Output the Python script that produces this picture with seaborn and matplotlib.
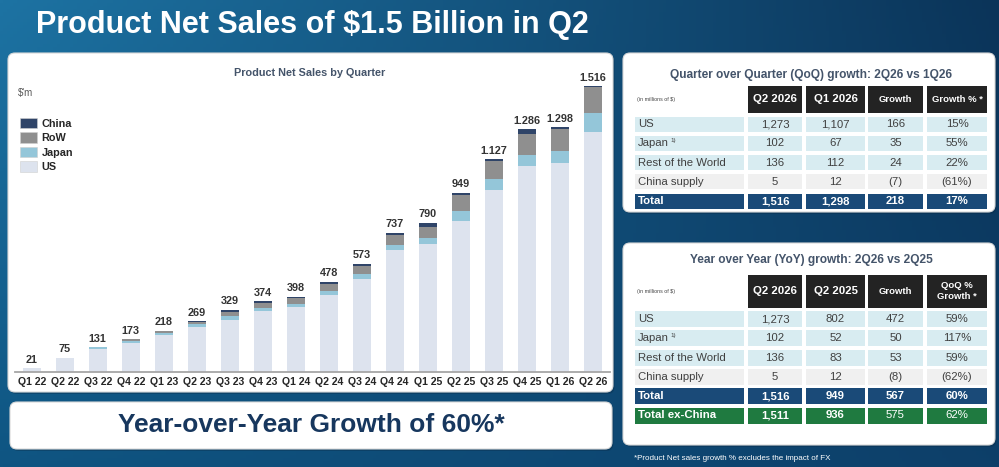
import matplotlib
matplotlib.use("Agg")
import matplotlib.pyplot as plt
import matplotlib.colors as mcolors
from matplotlib.patches import FancyBboxPatch, Rectangle, Patch
import numpy as np
import pandas as pd
import seaborn as sns

# ---- data ----
quarters = ['Q1 22', 'Q2 22', 'Q3 22', 'Q4 22', 'Q1 23', 'Q2 23', 'Q3 23', 'Q4 23', 'Q1 24',
            'Q2 24', 'Q3 24', 'Q4 24', 'Q1 25', 'Q2 25', 'Q3 25', 'Q4 25', 'Q1 26', 'Q2 26']
us = [21, 72, 124, 155, 194, 239, 277, 321, 344, 406, 495, 647, 681, 802, 963, 1090, 1107, 1273]
japan = [0, 0, 7, 9, 14, 14, 18, 19, 18, 21, 23, 28, 30, 52, 62, 62, 67, 102]
rest = [0, 3, 0, 9, 10, 14, 25, 25, 32, 39, 44, 50, 58, 83, 92, 109, 112, 136]
china = [0, 0, 0, 0, 0, 2, 9, 9, 4, 12, 11, 12, 21, 12, 10, 25, 12, 5]

qoq_header = ['Q2 2026', 'Q1 2026', 'Growth', 'Growth % *']
qoq_labels = ['US', 'Japan', 'Rest of the World', 'China supply', 'Total']
qoq_values = [['1,273', '1,107', '166', '15%'],
              ['102', '67', '35', '55%'],
              ['136', '112', '24', '22%'],
              ['5', '12', '(7)', '(61%)'],
              ['1,516', '1,298', '218', '17%']]

yoy_header = ['Q2 2026', 'Q2 2025', 'Growth', 'QoQ %\nGrowth *']
yoy_labels = ['US', 'Japan', 'Rest of the World', 'China supply', 'Total', 'Total ex-China']
yoy_values = [['1,273', '802', '472', '59%'],
              ['102', '52', '50', '117%'],
              ['136', '83', '53', '59%'],
              ['5', '12', '(8)', '(62%)'],
              ['1,516', '949', '567', '60%'],
              ['1,511', '936', '575', '62%']]

df = pd.DataFrame({'quarter': quarters, 'US': us, 'Japan': japan, 'RoW': rest, 'China': china})
df['lvl_japan'] = df['US'] + df['Japan']
df['lvl_row'] = df['lvl_japan'] + df['RoW']
df['total'] = df['lvl_row'] + df['China']

sns.set_theme(style='white')
plt.rcParams['font.family'] = ['Liberation Sans', 'DejaVu Sans']

W, H = 999, 467
fig = plt.figure(figsize=(W / 100, H / 100), dpi=100)

# background gradient + panels, in pixel coords
bg = fig.add_axes([0, 0, 1, 1])
bg.set_xlim(0, W)
bg.set_ylim(H, 0)
bg.axis('off')
tl, tr = np.array(mcolors.to_rgb('#1d73a3')), np.array(mcolors.to_rgb('#0b3459'))
bl, br = np.array(mcolors.to_rgb('#0f5582')), np.array(mcolors.to_rgb('#0d3f69'))
u = np.linspace(0, 1, 300)[None, :, None]
v = np.linspace(0, 1, 150)[:, None, None]
grad = (1 - v) * ((1 - u) * tl + u * tr) + v * ((1 - u) * bl + u * br)
bg.imshow(grad, extent=[0, W, H, 0], aspect='auto', zorder=0)


def panel(x0, y0, x1, y1, r=7):
    bg.add_patch(FancyBboxPatch((x0 + 1.5, y0 + 2), x1 - x0, y1 - y0,
                                boxstyle=f'round,pad=0,rounding_size={r}',
                                fc='#0a2a45', ec='none', alpha=0.35, zorder=1))
    bg.add_patch(FancyBboxPatch((x0, y0), x1 - x0, y1 - y0,
                                boxstyle=f'round,pad=0,rounding_size={r}',
                                fc='white', ec='#d9d9d9', lw=0.8, zorder=2))


panel(8, 53, 613, 392)
panel(10, 402, 612, 449)
panel(623, 53, 995, 212)
panel(623, 243, 995, 445)

bg.text(312, 25, 'Product Net Sales of $1.5 Billion in Q2', color='white', fontsize=22,
        fontweight='bold', ha='center', va='center', zorder=3)
bg.text(311, 425, 'Year-over-Year Growth of 60%*', color='#17375e', fontsize=19,
        fontweight='bold', ha='center', va='center', zorder=3)
bg.text(310, 73, 'Product Net Sales by Quarter', color='#44546a', fontsize=7.8,
        fontweight='bold', ha='center', va='center', zorder=3)
bg.text(18, 93, "$'m", color='#595959', fontsize=7, ha='left', va='center', zorder=3)
bg.text(634, 459, '*Product Net sales growth % excludes the impact of FX', color='white',
        fontsize=5.8, ha='left', va='center', zorder=3)

# ---- stacked bars ----
seg_colors = {'China': '#2f4468', 'RoW': '#8f8f8f', 'Japan': '#94c6d9', 'US': '#dde3ee'}
ax = fig.add_axes([15 / W, 1 - 372 / H, 595 / W, 312 / H])
ax.set_facecolor('none')
scale = (372 - 86) / 1516
for col, key in [('total', 'China'), ('lvl_row', 'RoW'), ('lvl_japan', 'Japan'), ('US', 'US')]:
    sns.barplot(data=df, x='quarter', y=col, order=quarters, color=seg_colors[key],
                saturation=1, width=0.555, linewidth=0, errorbar=None, ax=ax)
for i, t in enumerate(df['total']):
    ax.annotate(f'{t:,}'.replace(',', '.'), (i, t), xytext=(0, 2.5), textcoords='offset points',
                ha='center', va='bottom', fontsize=7.8, fontweight='bold', color='#333333')
ax.set_xlim(-0.506, 17.524)
ax.set_ylim(0, 312 / scale)
ax.set_xlabel('')
ax.set_ylabel('')
ax.set_yticks([])
ax.tick_params(axis='x', length=0, pad=3.5)
for lab in ax.get_xticklabels():
    lab.set_fontsize(7.6)
    lab.set_fontweight('bold')
    lab.set_color('#262626')
for s in ['top', 'right', 'left']:
    ax.spines[s].set_visible(False)
ax.spines['bottom'].set_color('#a6a6a6')
ax.spines['bottom'].set_linewidth(1.3)

handles = [Patch(fc=seg_colors[k], ec='#d0d0d0', lw=0.4) for k in ['China', 'RoW', 'Japan', 'US']]
fig.legend(handles, ['China', 'RoW', 'Japan', 'US'], loc='upper left',
           bbox_to_anchor=(10 / W, 1 - 108 / H), frameon=False, handlelength=1.6,
           handleheight=1.1, labelspacing=0.34, handletextpad=0.4,
           prop={'weight': 'bold', 'size': 7.8}, labelcolor='#262626')

# ---- tables ----
cols_x = [(635, 744), (748, 802), (806, 865), (868, 923), (927, 987)]
row_fc = {'light': '#d8ecf1', 'grey': '#f0f0f0', 'total': '#1a4a78', 'green': '#1f7a40'}


def table(title, title_y, header, head_y, labels, values, kinds, row_top, row_h, pitch):
    bg.text(811, title_y, title, color='#44546a', fontsize=8.6, fontweight='bold',
            ha='center', va='center', zorder=3)
    bg.text(cols_x[0][0] + 2, (head_y[0] + head_y[1]) / 2, '(in millions of $)', color='#404040',
            fontsize=3.8, ha='left', va='center', zorder=3)
    for j, h in enumerate(header):
        x0, x1 = cols_x[j + 1]
        bg.add_patch(Rectangle((x0, head_y[0]), x1 - x0, head_y[1] - head_y[0],
                               fc='#232323', ec='none', zorder=3))
        bg.text((x0 + x1) / 2, (head_y[0] + head_y[1]) / 2, h, color='white',
                fontsize=8.2 if j < 2 else 6.8, fontweight='bold', ha='center', va='center',
                zorder=4, linespacing=1.25)
    for i, (lab, vals, kind) in enumerate(zip(labels, values, kinds)):
        y0 = row_top + i * pitch
        dark = kind in ('total', 'green')
        tc = 'white' if dark else '#404040'
        fw = 'bold' if dark else 'normal'
        for j in range(5):
            x0, x1 = cols_x[j]
            bg.add_patch(Rectangle((x0, y0), x1 - x0, row_h, fc=row_fc[kind], ec='none', zorder=3))
        bg.text(cols_x[0][0] + 3, y0 + row_h / 2, lab, color=tc, fontsize=8.2, fontweight=fw,
                ha='left', va='center', zorder=4)
        if lab == 'Japan':
            bg.text(cols_x[0][0] + 35, y0 + row_h / 2 - 2.5, '1)', color=tc, fontsize=4.5,
                    ha='left', va='center', zorder=4)
        for j, val in enumerate(vals):
            x0, x1 = cols_x[j + 1]
            w = fw if not (kind == 'green' and j >= 2) else 'normal'
            bg.text((x0 + x1) / 2, y0 + row_h / 2, val, color=tc, fontsize=8.2, fontweight=w,
                    ha='center', va='center', zorder=4)


table('Quarter over Quarter (QoQ) growth: 2Q26 vs 1Q26', 75, qoq_header, (86, 113),
      qoq_labels, qoq_values, ['light', 'light', 'light', 'grey', 'total'], 116.7, 15, 19.2)
table('Year over Year (YoY) growth: 2Q26 vs 2Q25', 260, yoy_header, (274.5, 307.5),
      yoy_labels, yoy_values, ['light', 'light', 'light', 'grey', 'total', 'green'], 311, 16, 19.3)

fig.savefig('out.png', dpi=100)
